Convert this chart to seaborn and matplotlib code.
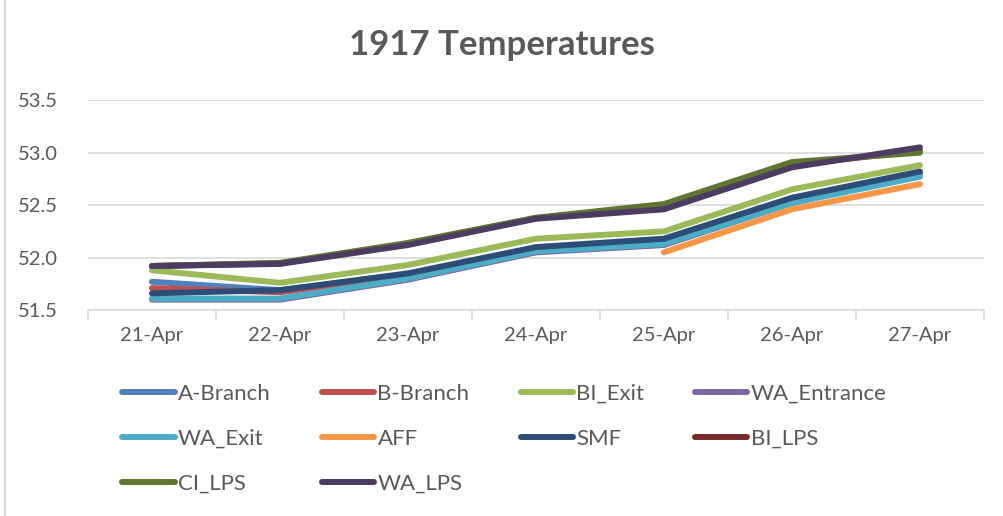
import matplotlib
matplotlib.use("Agg")
import matplotlib.pyplot as plt
import numpy as np
import pandas as pd
import seaborn as sns
from matplotlib.lines import Line2D

# Data
dates = ["21-Apr", "22-Apr", "23-Apr", "24-Apr", "25-Apr", "26-Apr", "27-Apr"]

a_branch = [51.77, 51.69, 51.84, 52.09, 52.16, 52.56, 52.81]
b_branch = [51.71, 51.67, 51.83, 52.08, 52.15, 52.55, 52.80]
bi_exit = [51.88, 51.76, 51.93, 52.18, 52.25, 52.65, 52.88]
wa_entrance = [51.60, 51.60, 51.79, 52.05, 52.12, 52.52, 52.80]
wa_exit = [51.61, 51.61, 51.80, 52.06, 52.13, 52.52, 52.77]
aff = [np.nan, np.nan, np.nan, np.nan, 52.05, 52.46, 52.70]
smf = [51.66, 51.69, 51.85, 52.10, 52.18, 52.57, 52.82]
bi_lps = [51.92, 51.945, 52.13, 52.375, 52.48, 52.88, 53.02]
ci_lps = [51.92, 51.95, 52.14, 52.38, 52.51, 52.91, 53.00]
wa_lps = [51.92, 51.94, 52.12, 52.37, 52.46, 52.86, 53.05]

series_names = ["A-Branch", "B-Branch", "BI_Exit", "WA_Entrance", "WA_Exit",
                "AFF", "SMF", "BI_LPS", "CI_LPS", "WA_LPS"]
series_values = [a_branch, b_branch, bi_exit, wa_entrance, wa_exit,
                 aff, smf, bi_lps, ci_lps, wa_lps]
colors = ["#4F81BD", "#C0504D", "#9BBB59", "#8064A2", "#4BACC6",
          "#F79646", "#2C4D75", "#772C2A", "#5F7530", "#4D3B62"]

rows = []
for name, vals in zip(series_names, series_values):
    for d, v in zip(dates, vals):
        rows.append({"date": d, "series": name, "temp": v})
df = pd.DataFrame(rows).dropna()

sns.set_theme(style="white")
plt.rcParams["font.family"] = ["Lato", "DejaVu Sans"]
text_color = "#595959"
grid_color = "#D9D9D9"

fig = plt.figure(figsize=(10.04, 5.16), dpi=100)
ax = fig.add_axes([0.0876, 0.399, 0.8924, 0.407])

sns.lineplot(
    data=df, x="date", y="temp", hue="series", hue_order=series_names,
    palette=colors, sort=False, linewidth=4.3, ax=ax, legend=False,
    solid_capstyle="round", solid_joinstyle="round",
)

ax.set_xlim(-0.5, len(dates) - 0.5)
ax.set_ylim(51.5, 53.5)
ax.set_yticks(np.arange(51.5, 53.51, 0.5))
ax.set_yticklabels([f"{v:.1f}" for v in np.arange(51.5, 53.51, 0.5)])
ax.set_xticks(range(len(dates)))
ax.set_xticklabels(dates)
ax.set_xticks(np.arange(-0.5, len(dates), 1.0), minor=True)
ax.tick_params(axis="x", which="major", length=0, pad=12, labelsize=14.5, labelcolor=text_color)
ax.tick_params(axis="x", which="minor", length=7, width=1.2, color=grid_color, bottom=True)
ax.tick_params(axis="y", length=0, pad=22, labelsize=14.5, labelcolor=text_color)
ax.set_xlabel("")
ax.set_ylabel("")

ax.grid(axis="y", color=grid_color, linewidth=1.2)
ax.set_axisbelow(True)
for side in ["top", "right", "left"]:
    ax.spines[side].set_visible(False)
ax.spines["bottom"].set_color(grid_color)
ax.spines["bottom"].set_linewidth(1.2)

fig.text(0.5, 0.912, "1917 Temperatures", ha="center", va="center",
         fontsize=25, fontweight="bold", color=text_color)

# Legend: Excel fills row by row, matplotlib column by column
handles = {name: Line2D([0], [0], color=c, linewidth=4.3, solid_capstyle="round")
           for name, c in zip(series_names, colors)}
legend_order = ["A-Branch", "WA_Exit", "CI_LPS", "B-Branch", "AFF", "WA_LPS",
                "BI_Exit", "SMF", "WA_Entrance", "BI_LPS"]
leg = fig.legend(
    [handles[n] for n in legend_order], legend_order,
    ncols=4, loc="upper left", bbox_to_anchor=(0.122, 0.256),
    frameon=False, fontsize=16, handlelength=2.35, handletextpad=0.15,
    columnspacing=2.3, labelspacing=1.12, borderpad=0, borderaxespad=0,
)
for t in leg.get_texts():
    t.set_color(text_color)

fig.add_artist(Line2D([0.005, 0.005], [0.0, 1.0], transform=fig.transFigure,
                      color=grid_color, linewidth=1.5))

fig.savefig("out.png", dpi=100)
